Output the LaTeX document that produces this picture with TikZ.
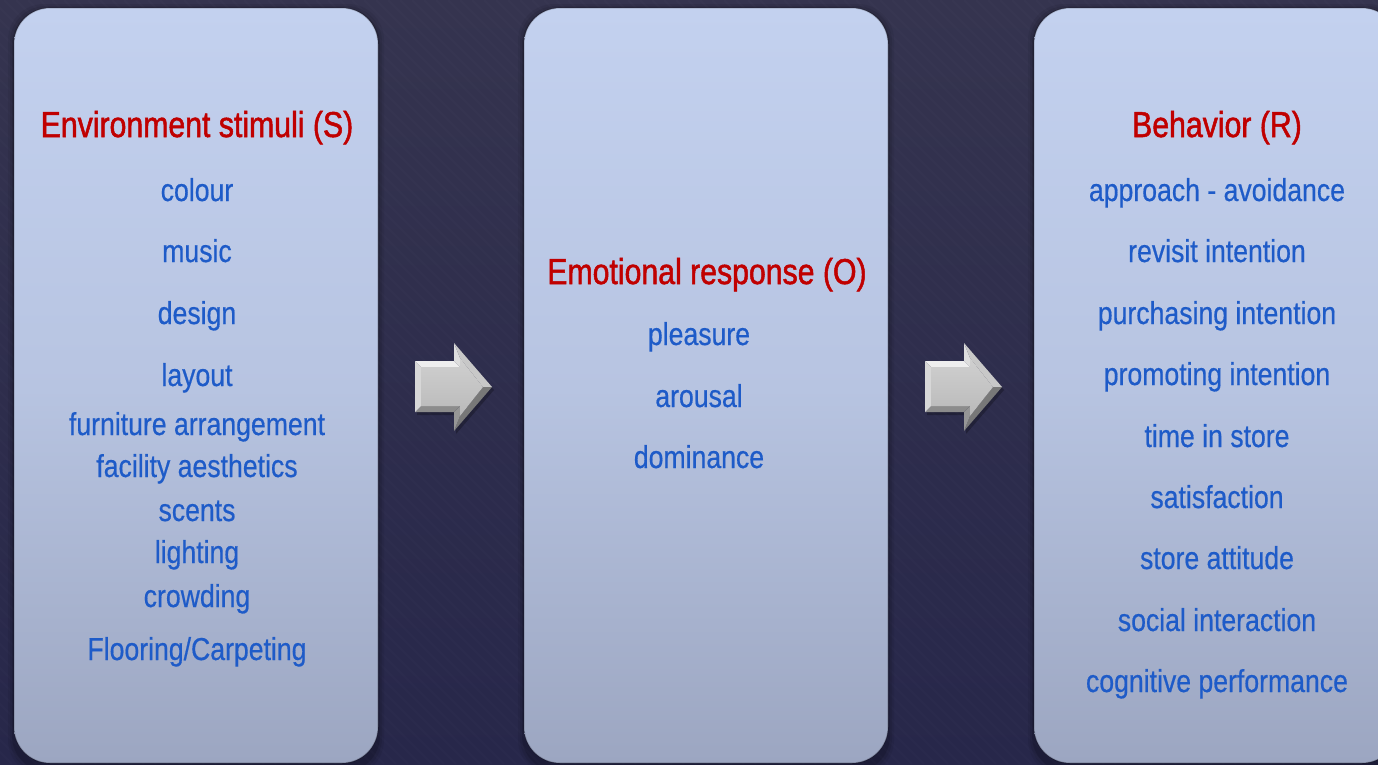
\documentclass[tikz,border=0pt]{standalone}
\usepackage{fontspec}
\setmainfont[FakeStretch=0.84]{Liberation Sans}
\newfontfamily\headfont[FakeStretch=0.84, FakeBold=1.4]{Liberation Sans}
\newfontfamily\itemfont[FakeStretch=0.84, FakeBold=0.5]{Liberation Sans}
\usetikzlibrary{calc}
\definecolor{bgtop}{HTML}{35344F}
\definecolor{bgbot}{HTML}{27274A}
\definecolor{boxtop}{HTML}{C3D1EF}
\definecolor{boxbot}{HTML}{9CA6C1}
\definecolor{headred}{HTML}{C00000}
\definecolor{itemblue}{HTML}{1E5BC8}
\tikzset{
  panel/.style={rounded corners=36pt, top color=boxtop, bottom color=boxbot, middle color=boxtop!70!boxbot},
  heading/.style={anchor=base, text=headred, font=\headfont\fontsize{36}{40}\selectfont},
  item/.style={anchor=base, text=itemblue, font=\itemfont\fontsize{31.7}{36}\selectfont},
}
% a bevelled grey block arrow whose left body edge sits at x = #1
\newcommand{\bevelarrow}[1]{%
  \begin{scope}[shift={(#1,0)}]
    \coordinate (o1) at (0,361);  \coordinate (o2) at (39,361);
    \coordinate (o3) at (39,343); \coordinate (o4) at (77,387);
    \coordinate (o5) at (39,431); \coordinate (o6) at (39,412);
    \coordinate (o7) at (0,412);
    \coordinate (i1) at (6,367);  \coordinate (i2) at (45,367);
    \coordinate (i3) at (45,358); \coordinate (i4) at (68,387);
    \coordinate (i5) at (45,416); \coordinate (i6) at (45,406);
    \coordinate (i7) at (6,406);
    \fill[black, opacity=0.25] ($(o1)+(2,3)$) -- ($(o2)+(2,3)$) -- ($(o3)+(2,3)$) -- ($(o4)+(2,3)$) -- ($(o5)+(2,3)$) -- ($(o6)+(2,3)$) -- ($(o7)+(2,3)$) -- cycle;
    \fill[color={rgb,255:red,238;green,238;blue,238}] (o1) -- (o2) -- (i2) -- (i1) -- cycle;
    \fill[color={rgb,255:red,222;green,222;blue,222}] (o2) -- (o3) -- (i3) -- (i2) -- cycle;
    \fill[color={rgb,255:red,200;green,200;blue,200}] (o3) -- (o4) -- (i4) -- (i3) -- cycle;
    \fill[color={rgb,255:red,120;green,120;blue,120}] (o4) -- (o5) -- (i5) -- (i4) -- cycle;
    \fill[color={rgb,255:red,150;green,150;blue,150}] (o5) -- (o6) -- (i6) -- (i5) -- cycle;
    \fill[color={rgb,255:red,140;green,140;blue,140}] (o6) -- (o7) -- (i7) -- (i6) -- cycle;
    \fill[color={rgb,255:red,215;green,215;blue,215}] (o7) -- (o1) -- (i1) -- (i7) -- cycle;
    \shade[top color={rgb,255:red,208;green,208;blue,208}, bottom color={rgb,255:red,185;green,185;blue,185}]
      (i1) -- (i2) -- (i3) -- (i4) -- (i5) -- (i6) -- (i7) -- cycle;
  \end{scope}}
\begin{document}
\begin{tikzpicture}[x=1pt, y=-1pt]
  % backdrop
  \shade[top color=bgtop, bottom color=bgbot] (0,0) rectangle (1378,764);
  \useasboundingbox (0,0) rectangle (1378,764);
  \begin{scope}
    \clip (0,0) rectangle (1378,764);
    \foreach \k in {-800,-788,...,1400}
      \draw[white, opacity=0.012, line width=2pt] (\k,0) -- (\k+764,764);
  \end{scope}

  % soft shadows under the three panels
  \foreach \xl in {14,524,1034} {
    \foreach \g/\op in {6/0.06,4/0.08,2/0.12}
      \fill[black, opacity=\op, rounded corners=36pt] (\xl-\g,8-\g+2) rectangle (\xl+364+\g,770+\g);
  }

  % panels
  \path[panel] (14,8) rectangle (378,763);
  \path[panel] (524,8) rectangle (888,763);
  \path[panel] (1034,8) rectangle (1398,763);
  \foreach \xl in {14,524,1034}
    \draw[black, opacity=0.18, line width=1.2pt, rounded corners=36pt] (\xl,8) rectangle (\xl+364,763);

  % stimuli
  \node[heading] (sh) at (197,137) {Environment stimuli (S)};
  \node[item] (s1) at (197,201) {colour};
  \node[item] (s2) at (197,262) {music};
  \node[item] (s3) at (197,324) {design};
  \node[item] (s4) at (197,386) {layout};
  \node[item] (s5) at (197,435) {furniture arrangement};
  \node[item] (s6) at (197,477) {facility aesthetics};
  \node[item] (s7) at (197,521) {scents};
  \node[item] (s8) at (197,563) {lighting};
  \node[item] (s9) at (197,607) {crowding};
  \node[item] (s10) at (197,660) {Flooring/Carpeting};

  % organism
  \node[heading] (oh) at (707,284) {Emotional response (O)};
  \node[item] (o1) at (699,345) {pleasure};
  \node[item] (o2) at (699,407) {arousal};
  \node[item] (o3) at (699,468) {dominance};

  % response
  \node[heading] (rh) at (1217,137) {Behavior (R)};
  \node[item] (r1) at (1217,201) {approach - avoidance};
  \node[item] (r2) at (1217,262) {revisit intention};
  \node[item] (r3) at (1217,324) {purchasing intention};
  \node[item] (r4) at (1217,385) {promoting intention};
  \node[item] (r5) at (1217,447) {time in store};
  \node[item] (r6) at (1217,508) {satisfaction};
  \node[item] (r7) at (1217,569) {store attitude};
  \node[item] (r8) at (1217,631) {social interaction};
  \node[item] (r9) at (1217,692) {cognitive performance};

  % arrows between the panels
  \bevelarrow{415}
  \bevelarrow{925}
\end{tikzpicture}
\end{document}
